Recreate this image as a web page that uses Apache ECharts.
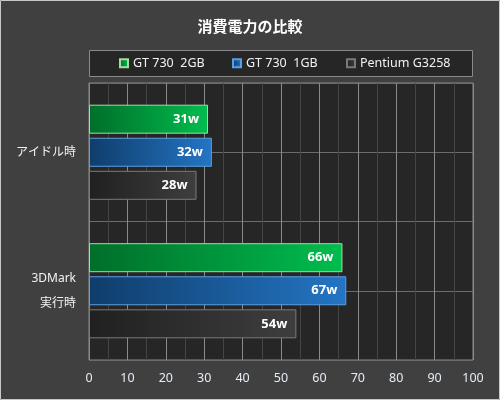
<!DOCTYPE html>
<html>
<head>
<meta charset="utf-8">
<script src="https://cdn.jsdelivr.net/npm/echarts@6/dist/echarts.min.js"></script>
<style>
html,body{margin:0;padding:0;background:#404040;}
#main{width:500px;height:400px;}
</style>
</head>
<body>
<div id="main"></div>
<script>
var categories = ['アイドル時', '3DMark\n実行時'];
var seriesNames = ['GT 730  2GB', 'GT 730  1GB', 'Pentium G3258'];
var gt730_2gb = [31, 66];
var gt730_1gb = [32, 67];
var pentium = [28, 54];

var font = "'Noto Sans', 'Noto Sans CJK JP', sans-serif";

function grad(c1, c2){
	return new echarts.graphic.LinearGradient(0, 0, 1, 0, [
		{offset: 0, color: c1},
		{offset: 1, color: c2}
	]);
}

function makeSeries(name, data, c1, c2, border){
	return {
		name: name,
		type: 'bar',
		data: data,
		yAxisIndex: 0,
		barWidth: 29,
		barGap: '14%',
		itemStyle: {
			color: grad(c1, c2),
			borderColor: border,
			borderWidth: 1
		},
		label: {
			show: true,
			position: 'insideRight',
			distance: 9,
			formatter: '{c}w',
			color: '#ffffff',
			fontWeight: 'bold',
			fontSize: 13,
			fontFamily: font
		}
	};
}

// one legend per series so each item sits at its own x
function makeLegend(name, left){
	return {
		data: [name],
		left: left,
		top: 52,
		itemWidth: 8,
		itemHeight: 8,
		icon: 'rect',
		textStyle: {
			color: '#f2f2f2',
			fontSize: 12.5,
			fontFamily: font
		}
	};
}

var myChart = echarts.init(document.getElementById('main'));
myChart.setOption({
	backgroundColor: '#404040',
	animation: false,
	title: {
		text: '消費電力の比較',
		left: 'center',
		top: 14,
		textStyle: {
			color: '#ffffff',
			fontSize: 15,
			fontWeight: 'bold',
			fontFamily: "'Noto Sans CJK JP', sans-serif"
		}
	},
	graphic: [
		{
			type: 'rect',
			shape: {x: 89.5, y: 50.5, width: 383, height: 26},
			style: {fill: '#262626', stroke: '#8a8a8a', lineWidth: 1},
			z: -1
		},
		{
			type: 'rect',
			shape: {x: 0.5, y: 0.5, width: 499, height: 399},
			style: {fill: null, stroke: '#c8c8c8', lineWidth: 1}
		}
	],
	legend: [
		makeLegend(seriesNames[0], 114),
		makeLegend(seriesNames[1], 227),
		makeLegend(seriesNames[2], 341)
	],
	grid: {
		left: 89,
		right: 27,
		top: 83,
		bottom: 40,
		show: true,
		backgroundColor: '#262626',
		borderColor: '#8a8a8a',
		borderWidth: 1
	},
	xAxis: {
		type: 'value',
		min: 0,
		max: 100,
		interval: 10,
		axisLine: {show: false},
		axisTick: {show: false},
		axisLabel: {
			color: '#e4ecf6',
			fontSize: 12.5,
			margin: 12,
			fontFamily: font
		},
		splitLine: {lineStyle: {color: '#8a8a8a', width: 1}},
		minorTick: {show: false, splitNumber: 2},
		minorSplitLine: {show: true, lineStyle: {color: '#454545', width: 1}}
	},
	yAxis: [
		{
			type: 'category',
			data: categories,
			inverse: true,
			axisLine: {show: false},
			axisTick: {show: false},
			splitLine: {show: false},
			axisLabel: {
				color: '#f2f2f2',
				fontSize: 12,
				margin: 13,
				lineHeight: 25,
				fontFamily: font
			}
		},
		{
			type: 'category',
			data: ['', '', '', ''],
			axisLine: {show: false},
			axisTick: {show: false},
			axisLabel: {show: false},
			splitLine: {show: true, lineStyle: {color: '#6c6c6c', width: 1}}
		}
	],
	series: [
		makeSeries(seriesNames[0], gt730_2gb, '#006e2a', '#00bd4e', '#a6dca0'),
		makeSeries(seriesNames[1], gt730_1gb, '#0f3d6b', '#2475c4', '#5c9ee2'),
		makeSeries(seriesNames[2], pentium, '#202020', '#3e3e3e', '#7a7a7a')
	]
});
</script>
</body>
</html>
